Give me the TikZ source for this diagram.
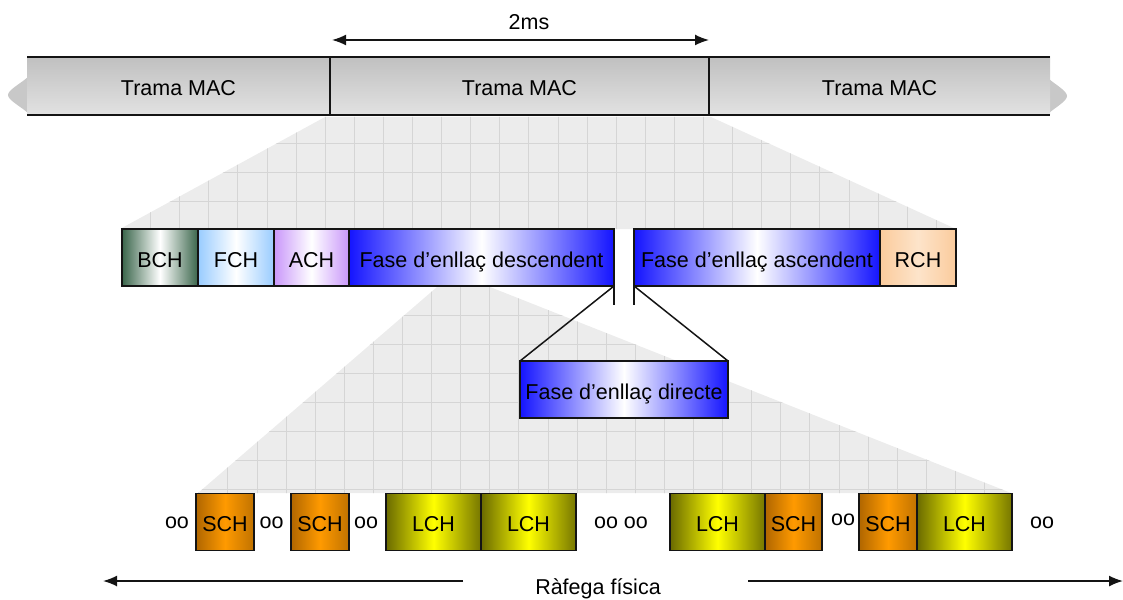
\documentclass[tikz,border=0pt]{standalone}
\usepackage{fontspec}
\setmainfont{Liberation Sans}
\usetikzlibrary{arrows.meta}

\definecolor{edge}{HTML}{141414}
\definecolor{bchG}{HTML}{3A664B}
\definecolor{fchB}{HTML}{99CCFF}
\definecolor{achP}{HTML}{C997FA}
\definecolor{phaseB}{HTML}{1414FF}
\definecolor{rchO}{HTML}{FBCB9C}
\definecolor{rchL}{HTML}{FDE4CA}
\definecolor{schD}{HTML}{B06600}
\definecolor{schR}{HTML}{C07200}
\definecolor{schL}{HTML}{FF9A00}
\definecolor{lchD}{HTML}{6A6A00}
\definecolor{lchR}{HTML}{767600}
\definecolor{lchL}{HTML}{FFFF00}
\definecolor{barTop}{HTML}{C0C0C0}
\definecolor{barBot}{HTML}{E2E2E2}
\definecolor{chev}{HTML}{C8C8C8}
\definecolor{gridFill}{HTML}{ECECEC}
\definecolor{gridLine}{HTML}{D5D5D5}

\begin{document}
\begin{tikzpicture}[x=1pt,y=-1pt,
  every node/.style={font=\fontsize{21.5}{25}\selectfont, inner sep=0pt, outer sep=0pt},
  cell/.style={draw=edge, line width=1.5pt, minimum height=57pt,
               text height=19pt, text depth=0pt},
  band/.style={top color=barTop, bottom color=barBot},
  bchbox/.style={cell, left color=bchG, right color=bchG, middle color=white},
  fchbox/.style={cell, left color=fchB, right color=fchB, middle color=white},
  achbox/.style={cell, left color=achP, right color=achP, middle color=white},
  phasebox/.style={cell, left color=phaseB, right color=phaseB, middle color=white},
  rchbox/.style={cell, left color=rchO, right color=rchO, middle color=rchL},
  schbox/.style={cell, minimum width=58pt, left color=schD, right color=schR, middle color=schL},
  lchbox/.style={cell, minimum width=95pt, left color=lchD, right color=lchR, middle color=lchL},
  dots/.style={},
  link/.style={draw=edge, line width=1.5pt},
  span/.style={draw=edge, line width=1.6pt, {Latex[length=14pt,width=11pt]}-{Latex[length=14pt,width=11pt]}},
  halfspan/.style={draw=edge, line width=1.6pt, -{Latex[length=14pt,width=11pt]}},
  gridzone/.style={fill=gridFill},
  gridrule/.style={draw=gridLine, line width=0.6pt}
]
\useasboundingbox (0,0) rectangle (1123,599);

% zoom-out wedge from the MAC frame to its phases
\begin{scope}
  \clip (325,117) -- (711,117) -- (956,229) -- (120,229) -- cycle;
  \fill[gridzone] (100,100) rectangle (1000,240);
  \foreach \i in {0,...,31} \draw[gridrule] ({92.2+29.1*\i},100) -- ({92.2+29.1*\i},240);
  \foreach \j in {0,...,4} \draw[gridrule] (100,{113.9+29.1*\j}) -- (1000,{113.9+29.1*\j});
\end{scope}

% zoom-out wedge from the downlink phase to the physical burst
\begin{scope}
  \clip (437,287) -- (490,287) -- (1011,493) -- (198,493) -- cycle;
  \fill[gridzone] (180,280) rectangle (1020,500);
  \foreach \i in {0,...,29} \draw[gridrule] ({198.6+29.1*\i},280) -- ({198.6+29.1*\i},500);
  \foreach \j in {0,...,7} \draw[gridrule] (180,{285.9+29.1*\j}) -- (1020,{285.9+29.1*\j});
\end{scope}

% MAC frame band with continuation tips
\fill[chev] (28,77) .. controls (20,84) and (8,90) .. (8,95) .. controls (8,100) and (20,106) .. (28,113) -- cycle;
\fill[chev] (1049,79) .. controls (1056,85) and (1067,91) .. (1067,96) .. controls (1067,101) and (1056,107) .. (1049,113) -- cycle;
\fill[band] (27,57) rectangle (1050,115);
\draw[link] (27,57) -- (1050,57);
\draw[link] (27,115) -- (1050,115);
\node (mac1) at (178.5,86) [minimum height=58pt, text height=19pt, text depth=0pt] {Trama MAC};
\node (mac2) at (519.5,86) [cell, band, minimum width=379pt, minimum height=58pt] {Trama MAC};
\node (mac3) at (879.5,86) [minimum height=58pt, text height=19pt, text depth=0pt] {Trama MAC};

% frame duration
\coordinate (durL) at (332,40);
\coordinate (durR) at (709,40);
\draw[span] (durL) -- (durR);
\node (dur) at (529,22) {2ms};

% MAC frame phases
\node (bch)  at (160,257.5)   [bchbox, minimum width=76pt]  {BCH};
\node (fch)  at (236,257.5)   [fchbox, minimum width=76pt]  {FCH};
\node (ach)  at (311.5,257.5) [achbox, minimum width=75pt]  {ACH};
\node (desc) at (481.5,257.5) [phasebox, minimum width=265pt] {Fase d’enllaç descendent};
\node (asc)  at (757,257.5)   [phasebox, minimum width=246pt] {Fase d’enllaç ascendent};
\node (rch)  at (918,257.5)   [rchbox, minimum width=76pt]  {RCH};

% direct link phase between the two
\node (dir) at (624,389.5) [phasebox, minimum width=208pt] {Fase d’enllaç directe};
\draw[link] (desc.south east) -- ++(0,19);
\draw[link] (asc.south west) -- ++(0,19);
\draw[link] (desc.south east) -- (dir.north west);
\draw[link] (asc.south west) -- (dir.north east);

% physical burst
\node (s1) at (225,522)   [schbox] {SCH};
\node (s2) at (320,522)   [schbox] {SCH};
\node (l1) at (433.5,522) [lchbox] {LCH};
\node (l2) at (528.5,522) [lchbox] {LCH};
\node (l3) at (717.5,522) [lchbox] {LCH};
\node (s3) at (793.5,522) [schbox, minimum width=57pt] {SCH};
\node (s4) at (888,522)   [schbox] {SCH};
\node (l4) at (964.5,522) [lchbox] {LCH};

\node (o1) at (177,523)  [dots] {oo};
\node (o2) at (271.5,523) [dots] {oo};
\node (o3) at (366,523)  [dots] {oo};
\node (o4) at (621,523)  [dots] {oo oo};
\node (o5) at (843,520)  [dots] {oo};
\node (o6) at (1042,523) [dots] {oo};

% burst extent
\coordinate (rfL) at (103,581);
\coordinate (rfLm) at (463,581);
\coordinate (rfRm) at (748,581);
\coordinate (rfR) at (1123,581);
\draw[halfspan] (rfLm) -- (rfL);
\draw[halfspan] (rfRm) -- (rfR);
\node (rf) at (598,594) [anchor=base] {Ràfega física};
\end{tikzpicture}
\end{document}
